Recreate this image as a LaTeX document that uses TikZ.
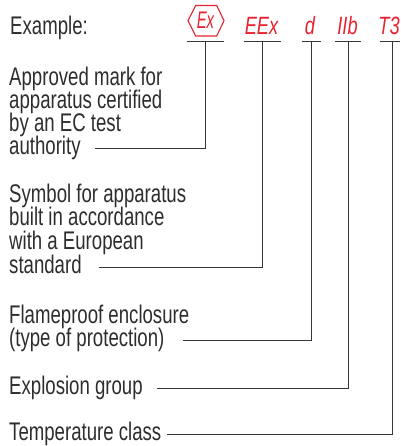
\documentclass[tikz,border=0pt]{standalone}
\usepackage{fontspec}
\setmainfont{Liberation Sans}[FakeStretch=0.73]
\definecolor{exred}{RGB}{232,35,48}
\definecolor{txtgray}{RGB}{45,45,45}
\definecolor{lngray}{RGB}{55,55,55}
\begin{document}
\begin{tikzpicture}[x=1pt,y=-1pt,
  txt/.style={anchor=base west,inner sep=0pt,text=txtgray,font=\fontsize{25.5}{25.5}\selectfont},
  redlab/.style={anchor=base,inner sep=0pt,text=exred,font=\fontsize{25}{25}\selectfont\itshape},
  lead/.style={draw=lngray,line width=0.9pt},
  hexa/.style={draw=exred,line width=1.1pt,line join=miter}]
\useasboundingbox (0,0) rectangle (400,446);
% header
\node[txt] (ex) at (10,35) {Example:};
\draw[hexa] (188,20.7) -- (195.7,5.5) -- (216.7,5.5) -- (224,20.7) -- (216.7,36) -- (195.7,36) -- cycle;
\node[redlab,font=\fontsize{24}{24}\selectfont\itshape] (lEx) at (205.5,29) {\scalebox{0.85}[1]{Ex}};
\node[redlab] (lEEx) at (261.5,35) {EEx};
\node[redlab] (ld) at (310,35) {d};
\node[redlab] (lIIb) at (347.5,35) {IIb};
\node[redlab] (lT3) at (389,35) {T3};
% underline points
\coordinate (u1) at (205.5,41.5);
\coordinate (u2) at (262.5,41.5);
\coordinate (u3) at (311.3,41.5);
\coordinate (u4) at (348.3,41.5);
\coordinate (u5) at (392.3,41.5);
\draw[lead] (187,41.5) -- (224,41.5);
\draw[lead] (244,41.5) -- (280.5,41.5);
\draw[lead] (301.5,41.5) -- (320.5,41.5);
\draw[lead] (334.5,41.5) -- (360.5,41.5);
\draw[lead] (380,41.5) -- (400,41.5);
% text blocks
\node[txt] (a1) at (9,85.5) {Approved mark for};
\node[txt] (a2) at (9,108.5) {apparatus certified};
\node[txt] (a3) at (9,131.5) {by an EC test};
\node[txt] (a4) at (9,154.5) {authority};
\node[txt] (b1) at (9,202) {Symbol for apparatus};
\node[txt] (b2) at (9,225.5) {built in accordance};
\node[txt] (b3) at (9,249.5) {with a European};
\node[txt] (b4) at (9,273.5) {standard};
\node[txt] (c1) at (9,323) {Flameproof enclosure};
\node[txt] (c2) at (9,346.5) {(type of protection)};
\node[txt] (d1) at (9,394.5) {Explosion group};
\node[txt] (e1) at (9,440.5) {Temperature class};
% leader end points
\coordinate (p1) at (95,148);
\coordinate (p2) at (99,267.5);
\coordinate (p3) at (183,340);
\coordinate (p4) at (157,388);
\coordinate (p5) at (167,434);
\draw[lead] (u1) |- (p1);
\draw[lead] (u2) |- (p2);
\draw[lead] (u3) |- (p3);
\draw[lead] (u4) |- (p4);
\draw[lead] (u5) |- (p5);
\end{tikzpicture}
\end{document}
